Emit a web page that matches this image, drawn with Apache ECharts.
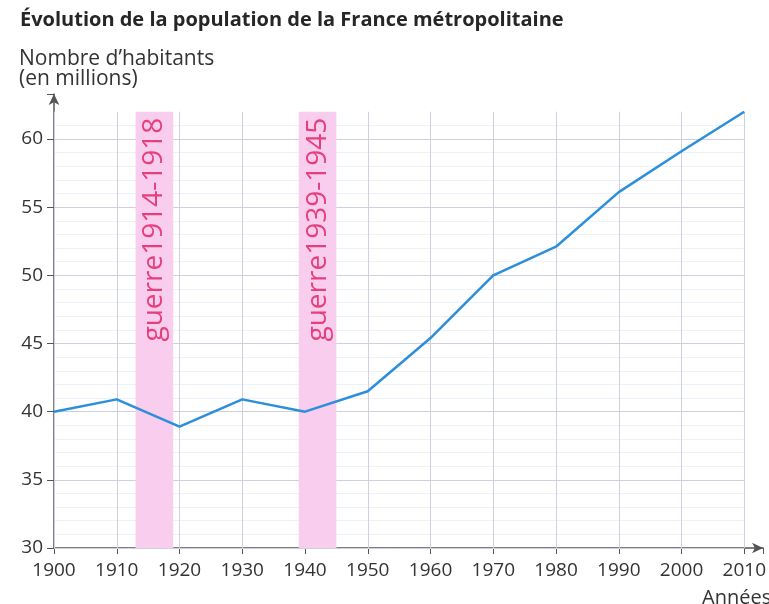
<!DOCTYPE html>
<html><head><meta charset="utf-8">
<script src="https://cdn.jsdelivr.net/npm/echarts@6/dist/echarts.min.js"></script>
<style>html,body{margin:0;padding:0;background:#fff}#c{width:769px;height:604px}</style>
</head><body><div id="c"></div>
<script>
var years = [1900,1910,1920,1930,1940,1950,1960,1970,1980,1990,2000,2010];
var population = [40,40.9,38.9,40.9,40,41.5,45.4,50,52.1,56.1,59.1,62];
var xTicks = [1900,1910,1920,1930,1940,1950,1960,1970,1980,1990,2000,2010];
var yTicks = [30,35,40,45,50,55,60];
var yMinor = [31,32,33,34,36,37,38,39,41,42,43,44,46,47,48,49,51,52,53,54,56,57,58,59,61];
var warLabels = ['guerre1914-1918','guerre1939-1945'];
var warStart = [1913,1939];
var warEnd = [1919,1945];
var gridTopValue = 62;

var font = 'Open Sans';
var chart = echarts.init(document.getElementById('c'), null, {renderer:'canvas'});

var vLines = xTicks.map(function(x){ return [{coord:[x,30]},{coord:[x,gridTopValue]}]; });
var hLines = yTicks.map(function(y){ return [{coord:[1900,y]},{coord:[2010,y]}]; });
var mLines = yMinor.map(function(y){ return [{coord:[1900,y]},{coord:[2010,y]}]; });
var areas = warLabels.map(function(t,i){
  return [{name:t, coord:[warStart[i],30]},{coord:[warEnd[i],gridTopValue]}];
});

chart.setOption({
  animation:false,
  backgroundColor:'#fff',
  title:[
    {text:'Évolution de la population de la France métropolitaine', left:15, top:5,
     textStyle:{fontFamily:font, fontWeight:'bold', fontSize:20, color:'#262626'}},
    {text:'Nombre d\u2019habitants\n(en millions)', left:14, top:44,
     textStyle:{fontFamily:font, fontWeight:'normal', fontSize:21, lineHeight:20, color:'#333'}},
    {text:'Années', left:697, top:583,
     textStyle:{fontFamily:font, fontWeight:'normal', fontSize:20, color:'#333'}}
  ],
  grid:{left:54, right:2, top:94, bottom:56},
  xAxis:{
    type:'value', min:1900, max:2013, interval:10,
    axisLine:{show:true, lineStyle:{color:'#555', width:1.5}, symbol:['none','arrow'], symbolSize:[8,11]},
    axisTick:{show:true, length:6, lineStyle:{color:'#555'}},
    axisLabel:{fontFamily:font, fontSize:19, color:'#333', margin:13,
      formatter:function(v){ return v%10===0 ? String(v) : ''; }},
    splitLine:{show:false}
  },
  yAxis:{
    type:'value', min:30, max:63.3, interval:5,
    axisLine:{show:true, lineStyle:{color:'#555', width:1.5}, symbol:['none','arrow'], symbolSize:[8,11]},
    axisTick:{show:true, length:7, lineStyle:{color:'#555'}},
    axisLabel:{fontFamily:font, fontSize:19, color:'#333', margin:11,
      formatter:function(v){ return v%5===0 ? String(v) : ''; }},
    splitLine:{show:false}
  },
  series:[
    {type:'line', data:[], silent:true,
     markLine:{silent:true, z:1, symbol:['none','none'], label:{show:false},
       lineStyle:{color:'#edf1f8', width:1, type:'solid'}, data:mLines}},
    {type:'line', data:[], silent:true,
     markLine:{silent:true, z:2, symbol:['none','none'], label:{show:false},
       lineStyle:{color:'#cfcfdf', width:1, type:'solid'}, data:vLines.concat(hLines)}},
    {type:'line', data:[], silent:true,
     markArea:{silent:true, z:3, itemStyle:{color:'#f9cdee'},
       label:{show:true, position:'insideTop', rotate:90, align:'right', verticalAlign:'middle',
         distance:6, fontFamily:font, fontSize:28, color:'#e6407c'},
       data:areas}},
    {type:'line', data:years.map(function(y,i){return [y,population[i]];}), z:6,
     showSymbol:false, symbol:'none', lineStyle:{color:'#2b8fdc', width:2.5}}
  ]
});
</script></body></html>
